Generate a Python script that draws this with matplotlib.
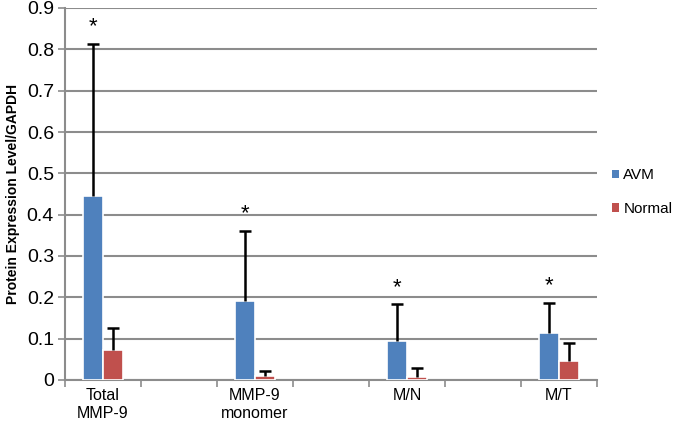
import matplotlib
matplotlib.use("Agg")
import matplotlib.pyplot as plt
import numpy as np
from matplotlib.patches import Patch
from matplotlib.ticker import FuncFormatter

plt.rcParams['font.family'] = ['Liberation Sans', 'DejaVu Sans']

categories = ["Total\nMMP-9", "MMP-9\nmonomer", "M/N", "M/T"]
avm = [0.445, 0.191, 0.094, 0.113]
avm_err = [0.368, 0.170, 0.089, 0.073]
normal = [0.073, 0.0105, 0.008, 0.047]
normal_err = [0.053, 0.0115, 0.020, 0.043]
significant = [True, True, True, True]
yticks = [0, 0.1, 0.2, 0.3, 0.4, 0.5, 0.6, 0.7, 0.8, 0.9]

blue = "#4F81BD"
red = "#C0504D"
grid = "#8C8C8C"

fig = plt.figure(figsize=(6.75, 4.25), dpi=100)
ax = fig.add_axes([65/675, 1-380/425, (597-65)/675, (380-8)/425])

pos = np.arange(len(categories)) * 2
w = 0.26
off = 0.135

def bars_with_err(x, vals, errs, color):
    ax.bar(x, vals, w, color=color, edgecolor="white", linewidth=1.2, zorder=3)
    tops = np.array(vals) + np.array(errs)
    ax.vlines(x, vals, tops, color="black", linewidth=1.8, zorder=4)
    ax.plot(x, tops, linestyle="none", marker="_", markersize=9, markeredgewidth=1.8,
            color="black", zorder=4)

bars_with_err(pos - off, avm, avm_err, blue)
bars_with_err(pos + off, normal, normal_err, red)

for p, v, e, s in zip(pos, avm, avm_err, significant):
    if s:
        ax.text(p - off, v + e + 0.016, "*", ha="center", va="bottom", fontsize=16, color="black", zorder=5)

ax.set_xlim(-0.5, pos[-1] + 0.5)
ax.set_ylim(0, 0.9)
ax.set_yticks(yticks)
ax.yaxis.set_major_formatter(FuncFormatter(lambda v, p: "0" if v == 0 else f"{v:.1f}"))
ax.yaxis.grid(True, color=grid, linewidth=1.5, zorder=0)
ax.set_axisbelow(True)

ax.set_xticks(pos)
ax.set_xticklabels(categories, fontsize=11.5)
ax.set_xticks(np.arange(-0.5, pos[-1] + 1, 1), minor=True)
ax.tick_params(axis="x", which="major", length=0, pad=6)
ax.tick_params(axis="x", which="minor", length=5, width=1.2, color=grid)
ax.tick_params(axis="y", length=5, width=1.2, color=grid, labelsize=14, pad=3)

for s in ["top", "right"]:
    ax.spines[s].set_visible(False)
for s in ["left", "bottom"]:
    ax.spines[s].set_color(grid)
    ax.spines[s].set_linewidth(1.5)

ax.set_ylabel("Protein Expression Level/GAPDH", fontsize=10, fontweight="bold", labelpad=5)

handles = [Patch(facecolor=blue, label="AVM"), Patch(facecolor=red, label="Normal")]
fig.legend(handles=handles, loc="center left", bbox_to_anchor=(612/675, 0.548), frameon=False,
           fontsize=11, handlelength=0.45, handleheight=0.45, handletextpad=0.3, labelspacing=1.3,
           borderpad=0, borderaxespad=0)

fig.savefig("out.png", dpi=100)
